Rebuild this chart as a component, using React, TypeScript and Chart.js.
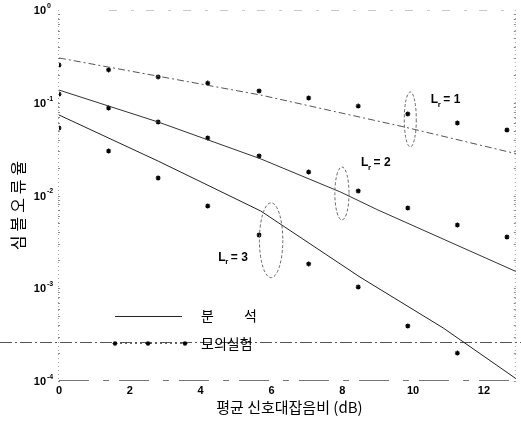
import React, { useEffect, useRef } from 'react';
import { Chart, registerables } from 'chart.js';

Chart.register(...registerables);

// ---- data ----
const snrDb = [0, 1.4, 2.8, 4.2, 5.65, 7.05, 8.45, 9.85, 11.25, 12.65];
const simLr1 = [0.255, 0.226, 0.19, 0.163, 0.134, 0.1125, 0.092, 0.0757, 0.0605, 0.0508];
const simLr2 = [0.124, 0.0878, 0.062, 0.0417, 0.0267, 0.0179, 0.0112, 0.00733, 0.00481, 0.00357];
const simLr3 = [0.0534, 0.0302, 0.01544, 0.0077, 0.00375, 0.00183, 0.00103, 0.000392, 0.0002, null];

const anaLr1X = [0, 5.7, 9.75, 13];
const anaLr1Y = [0.304, 0.121, 0.0548, 0.0277];
const anaLr2X = [0, 2.8, 5.7, 7.95, 9.0, 13];
const anaLr2Y = [0.137, 0.062, 0.0248, 0.0109, 0.007, 0.00146];
const anaLr3X = [0, 2.8, 5.7, 8.5, 10.85, 13];
const anaLr3Y = [0.0738, 0.0235, 0.0068, 0.00132, 0.000373, 0.0001];

const xTickValues = [0, 2, 4, 6, 8, 10, 12];
const yDecadeValues = [1, 0.1, 0.01, 0.001, 0.0001];
const yDecadeExponents = ['0', '-1', '-2', '-3', '-4'];

const lrNames = ['1', '2', '3'];
// annotation anchors (data units)
const lrLabelX = [10.5, 8.53, 4.5];
const lrLabelY = [0.107, 0.0225, 0.00216];
const ellipseX = [9.92, 7.99, 5.99];
const ellipseHalfW = [0.17, 0.2, 0.33];
const ellipseTop = [0.1307, 0.0203, 0.00834];
const ellipseBottom = [0.0334, 0.00545, 0.0013];
const artifactLineY = 0.000263;

const xTitle = '평균 신호대잡음비 (dB)';
const yTitle = '심볼오류율';
const legendAnalysis = ['분', '석'];
const legendSim = '모의실험';

const SANS = '"Liberation Sans", Arial, sans-serif';
const KR = '"Noto Sans CJK KR", sans-serif';

function toPoints(xs: number[], ys: (number | null)[]) {
  return xs.map((x, i) => ({ x, y: ys[i] as number })).filter((p) => p.y != null);
}

function drawStar(ctx: CanvasRenderingContext2D, x: number, y: number, r: number) {
  const d = r * 0.72;
  ctx.beginPath();
  ctx.moveTo(x - r, y); ctx.lineTo(x + r, y);
  ctx.moveTo(x, y - r); ctx.lineTo(x, y + r);
  ctx.moveTo(x - d, y - d); ctx.lineTo(x + d, y + d);
  ctx.moveTo(x - d, y + d); ctx.lineTo(x + d, y - d);
  ctx.stroke();
}

const decorPlugin = {
  id: 'decor',
  beforeDatasetsDraw(chart: any) {
    const { ctx, chartArea: a, scales } = chart;
    const ys = scales.y;
    ctx.save();
    ctx.lineWidth = 1;
    // frame (faint scanned look)
    ctx.strokeStyle = '#a8a8a8';
    ctx.setLineDash([1, 3]);
    ctx.beginPath();
    ctx.moveTo(a.left - 0.5, a.top); ctx.lineTo(a.left - 0.5, a.bottom);
    ctx.moveTo(a.right - 0.5, a.top); ctx.lineTo(a.right - 0.5, a.bottom);
    ctx.stroke();
    ctx.strokeStyle = '#c8c8c8';
    ctx.setLineDash([8, 14, 3, 12]);
    ctx.beginPath();
    ctx.moveTo(a.left + 50, a.top + 0.5); ctx.lineTo(a.right, a.top + 0.5);
    ctx.stroke();
    ctx.strokeStyle = '#777';
    ctx.setLineDash([30, 14, 6, 10]);
    ctx.beginPath();
    ctx.moveTo(a.left, a.bottom - 0.5); ctx.lineTo(a.right, a.bottom - 0.5);
    ctx.stroke();
    // minor log ticks
    ctx.setLineDash([]);
    ctx.strokeStyle = '#888';
    for (let e = 0; e < 4; e++) {
      const base = Math.pow(10, -4 + e);
      for (let k = 1; k <= 9; k++) {
        const py = Math.round(ys.getPixelForValue(base * k)) + 0.5;
        ctx.beginPath();
        ctx.moveTo(a.left - 1, py); ctx.lineTo(a.left + 1, py);
        ctx.moveTo(a.right - 2, py); ctx.lineTo(a.right, py);
        ctx.stroke();
      }
    }
    // scan artifact line across the page
    const ay = Math.round(ys.getPixelForValue(artifactLineY)) + 0.5;
    ctx.strokeStyle = '#555';
    ctx.setLineDash([12, 3, 2, 3]);
    ctx.beginPath();
    ctx.moveTo(0, ay); ctx.lineTo(chart.width, ay);
    ctx.stroke();
    ctx.restore();
  },
  afterDraw(chart: any) {
    const { ctx, chartArea: a, scales } = chart;
    const xs = scales.x;
    const ys = scales.y;
    ctx.save();
    ctx.fillStyle = '#000';
    // y tick labels with superscripts
    yDecadeValues.forEach((v, i) => {
      const py = ys.getPixelForValue(v);
      ctx.font = `bold 11px ${SANS}`;
      ctx.textAlign = 'right';
      ctx.textBaseline = 'middle';
      ctx.fillText('10', a.left - 13, py + 1);
      ctx.font = `bold 7px ${SANS}`;
      ctx.textAlign = 'left';
      ctx.fillText(yDecadeExponents[i], a.left - 12, py - 4);
    });
    // y title
    ctx.save();
    ctx.translate(18, (a.top + a.bottom) / 2 + 8);
    ctx.rotate(-Math.PI / 2);
    ctx.font = `16px ${KR}`;
    (ctx as any).letterSpacing = '4px';
    ctx.textAlign = 'center';
    ctx.textBaseline = 'middle';
    ctx.fillText(yTitle, 0, 0);
    ctx.restore();
    // x title
    ctx.font = `15px ${KR}`;
    ctx.textAlign = 'center';
    ctx.textBaseline = 'middle';
    ctx.fillText(xTitle, (a.left + a.right) / 2 + 2, a.bottom + 26);

    // ellipses
    ctx.strokeStyle = '#666';
    ctx.lineWidth = 1;
    ctx.setLineDash([3, 2]);
    for (let i = 0; i < 3; i++) {
      const cx = xs.getPixelForValue(ellipseX[i]);
      const rx = xs.getPixelForValue(ellipseX[i] + ellipseHalfW[i]) - cx;
      const t = ys.getPixelForValue(ellipseTop[i]);
      const b = ys.getPixelForValue(ellipseBottom[i]);
      ctx.beginPath();
      ctx.ellipse(cx, (t + b) / 2, rx, (b - t) / 2, 0, 0, Math.PI * 2);
      ctx.stroke();
    }
    ctx.setLineDash([]);
    // L_r labels
    for (let i = 0; i < 3; i++) {
      const lx = xs.getPixelForValue(lrLabelX[i]);
      const ly = ys.getPixelForValue(lrLabelY[i]);
      ctx.textAlign = 'left';
      ctx.textBaseline = 'middle';
      ctx.font = `bold 12px ${SANS}`;
      ctx.fillText('L', lx, ly);
      ctx.font = `bold 8px ${SANS}`;
      ctx.fillText('r', lx + 7, ly + 5);
      ctx.font = `bold 12px ${SANS}`;
      ctx.fillText('= ' + lrNames[i], lx + 12.5, ly);
    }
    // legend
    const lgX = a.left + 56;
    const lgY1 = a.top + 306;
    const lgY2 = a.top + 333;
    ctx.strokeStyle = '#222';
    ctx.lineWidth = 1;
    ctx.beginPath();
    ctx.moveTo(lgX, lgY1 + 0.5); ctx.lineTo(lgX + 67, lgY1 + 0.5);
    ctx.stroke();
    ctx.font = `14px ${KR}`;
    ctx.textBaseline = 'middle';
    ctx.textAlign = 'left';
    ctx.fillText(legendAnalysis[0], lgX + 86, lgY1);
    ctx.fillText(legendAnalysis[1], lgX + 129, lgY1);
    ctx.strokeStyle = '#666';
    ctx.setLineDash([2, 3]);
    ctx.beginPath();
    ctx.moveTo(lgX, lgY2 + 0.5); ctx.lineTo(lgX + 70, lgY2 + 0.5);
    ctx.stroke();
    ctx.setLineDash([]);
    ctx.strokeStyle = '#000';
    ctx.lineWidth = 1.1;
    [0, 33, 70].forEach((dx) => drawStar(ctx, lgX + dx, lgY2 + 0.5, 2.4));
    ctx.fillStyle = '#000';
    ctx.font = `14px ${KR}`;
    ctx.fillText(legendSim, lgX + 86, lgY2 + 1);
    ctx.restore();
  },
};

export default function App() {
  const ref = useRef<HTMLCanvasElement | null>(null);
  useEffect(() => {
    if (!ref.current) return;
    const lineBase = { showLine: true, pointRadius: 0, borderWidth: 1, fill: false, tension: 0 };
    const simBase = {
      showLine: false,
      pointStyle: 'star',
      pointRadius: 2.5,
      borderWidth: 1.2,
      borderColor: '#000',
      backgroundColor: '#000',
    };
    const chart = new Chart(ref.current, {
      type: 'scatter',
      data: {
        datasets: [
          { ...lineBase, label: '분석 Lr=1', data: toPoints(anaLr1X, anaLr1Y), borderColor: '#555', borderDash: [7, 3, 2, 3] },
          { ...lineBase, label: '분석 Lr=2', data: toPoints(anaLr2X, anaLr2Y), borderColor: '#333' },
          { ...lineBase, label: '분석 Lr=3', data: toPoints(anaLr3X, anaLr3Y), borderColor: '#222' },
          { ...simBase, label: '모의실험 Lr=1', data: toPoints(snrDb, simLr1) },
          { ...simBase, label: '모의실험 Lr=2', data: toPoints(snrDb, simLr2) },
          { ...simBase, label: '모의실험 Lr=3', data: toPoints(snrDb, simLr3) },
        ] as any,
      },
      options: {
        animation: false,
        responsive: false,
        devicePixelRatio: 1,
        layout: { padding: { left: 59, right: 5, top: 10, bottom: 0 } },
        plugins: { legend: { display: false }, tooltip: { enabled: false } },
        scales: {
          x: {
            type: 'linear',
            min: 0,
            max: 12.9,
            grid: { display: false, drawTicks: false },
            border: { display: false },
            afterBuildTicks: (s: any) => {
              s.ticks = xTickValues.map((v) => ({ value: v }));
            },
            afterFit: (s: any) => {
              s.height = 42;
            },
            ticks: {
              padding: 3,
              color: '#000',
              font: { family: SANS, size: 11, weight: 'bold' },
              maxRotation: 0,
              autoSkip: false,
            },
          },
          y: {
            type: 'logarithmic',
            min: 0.0001,
            max: 1,
            display: false,
          },
        },
      } as any,
      plugins: [decorPlugin],
    });
    return () => chart.destroy();
  }, []);
  return (
    <div style={{ position: 'fixed', left: 0, top: 0, width: 521, height: 423, background: '#fff' }}>
      <canvas ref={ref} width={521} height={423} style={{ display: 'block', width: 521, height: 423 }} />
    </div>
  );
}
